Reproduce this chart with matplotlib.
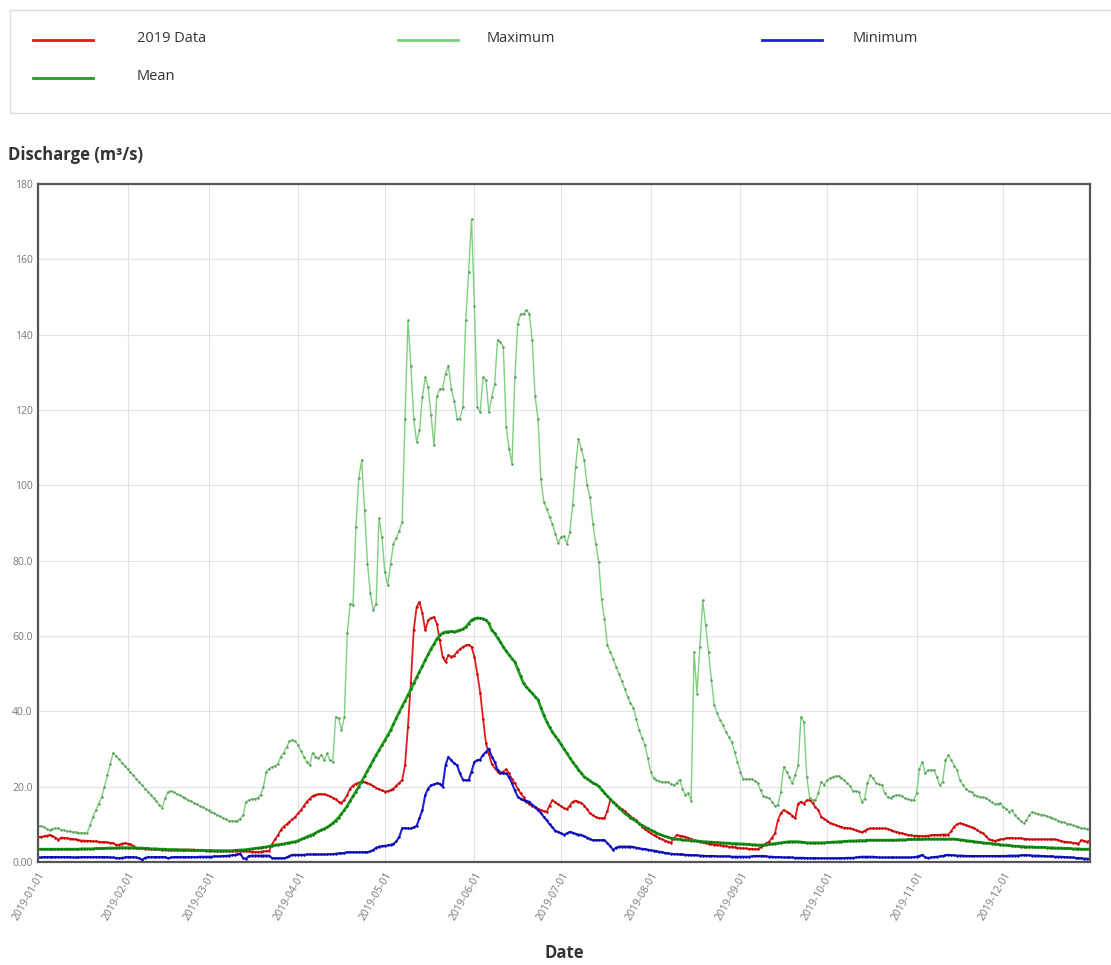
import pandas as pd
import matplotlib
matplotlib.use("Agg")
import matplotlib.pyplot as plt
import matplotlib.dates as mdates
from matplotlib.lines import Line2D
from matplotlib.ticker import FuncFormatter, MultipleLocator

plt.rcParams['font.family'] = ['Open Sans', 'DejaVu Sans']

# daily discharge values, one row per month (m3/s)
data_2019 = [
    6.6, 6.7, 6.8, 7.0, 7.2, 6.9, 6.5, 5.9, 6.5, 6.4, 6.3, 6.2, 6.1, 6.0, 5.8, 5.7, 5.7, 5.6, 5.6, 5.5, 5.5, 5.4, 5.3, 5.3, 5.2, 5.1, 5.0, 4.6, 4.6, 4.9, 5.0,
    4.9, 4.7, 4.3, 3.8, 3.7, 3.6, 3.5, 3.5, 3.4, 3.4, 3.4, 3.4, 3.3, 3.3, 3.3, 3.3, 3.3, 3.3, 3.3, 3.3, 3.3, 3.3, 3.3, 3.3, 3.2, 3.2, 3.2, 3.1,
    3.1, 3.1, 3.0, 3.0, 3.0, 3.0, 3.0, 3.0, 2.9, 2.9, 2.9, 2.8, 2.8, 2.8, 2.8, 2.7, 2.7, 2.7, 2.7, 2.8, 2.9, 3.0, 4.7, 6.0, 7.1, 8.5, 9.4, 10.0, 10.7, 11.3, 12.0,
    12.9, 13.8, 14.9, 16.0, 16.8, 17.5, 17.8, 18.0, 18.0, 18.0, 17.8, 17.4, 17.1, 16.6, 16.0, 15.7, 16.5, 17.8, 19.5, 20.3, 20.8, 21.1, 21.3, 21.2, 20.9, 20.6, 20.2, 19.7, 19.3, 19.0,
    18.7, 18.8, 19.1, 19.5, 20.3, 21.0, 21.7, 25.7, 35.9, 47.4, 61.5, 67.7, 69.0, 66.0, 61.5, 64.2, 64.8, 65.0, 63.3, 58.9, 54.5, 53.1, 54.9, 54.5, 54.8, 55.8, 56.5, 57.1, 57.5, 57.7, 57.1,
    54.5, 50.0, 45.0, 38.0, 31.5, 28.8, 26.0, 25.0, 24.0, 23.7, 24.0, 24.6, 23.5, 22.0, 20.9, 19.5, 18.2, 17.2, 16.0, 15.4, 14.9, 14.7, 14.2, 13.8, 13.5, 13.3, 15.0, 16.4, 15.8, 15.3,
    14.8, 14.3, 14.0, 15.0, 16.0, 16.3, 16.0, 15.7, 15.0, 14.0, 12.9, 12.4, 11.9, 11.7, 11.6, 11.6, 13.5, 16.4, 16.0, 15.3, 14.6, 14.0, 13.5, 12.8, 12.1, 11.6, 11.1, 10.3, 9.4, 8.7, 8.1,
    7.6, 7.2, 6.8, 6.3, 6.0, 5.7, 5.4, 5.1, 6.3, 7.2, 7.0, 6.8, 6.7, 6.4, 6.1, 5.8, 5.6, 5.4, 5.2, 5.0, 4.9, 4.8, 4.6, 4.5, 4.4, 4.3, 4.2, 4.1, 4.0, 3.9, 3.8,
    3.7, 3.6, 3.6, 3.5, 3.5, 3.4, 3.4, 3.9, 4.5, 5.0, 5.4, 6.5, 7.6, 11.1, 12.9, 13.8, 13.4, 12.9, 12.3, 11.6, 15.5, 16.0, 15.5, 16.4, 16.4, 15.7, 14.5, 13.8, 12.0, 11.5,
    11.0, 10.4, 10.1, 9.8, 9.5, 9.3, 9.1, 9.0, 8.9, 8.7, 8.4, 8.1, 7.9, 8.3, 8.7, 8.9, 8.9, 8.9, 8.9, 8.9, 8.9, 8.8, 8.5, 8.2, 8.0, 7.8, 7.6, 7.4, 7.2, 7.1, 7.0,
    7.0, 6.9, 6.9, 6.9, 7.0, 7.1, 7.2, 7.2, 7.2, 7.3, 7.3, 7.3, 8.2, 9.4, 10.0, 10.3, 10.1, 9.8, 9.5, 9.2, 8.9, 8.5, 8.0, 7.6, 6.8, 6.0, 5.8, 5.6, 5.8, 6.0,
    6.1, 6.3, 6.4, 6.4, 6.3, 6.3, 6.3, 6.2, 6.1, 6.0, 6.0, 6.0, 6.0, 6.0, 6.0, 6.0, 6.0, 6.0, 6.0, 5.8, 5.6, 5.4, 5.3, 5.2, 5.1, 5.0, 4.9, 5.8, 5.6, 5.4, 5.8,
]

maximum = [
    9.5, 9.6, 9.3, 8.8, 8.5, 8.8, 9.0, 8.9, 8.6, 8.4, 8.2, 8.1, 8.0, 7.9, 7.8, 7.8, 7.7, 7.7, 9.8, 12.0, 13.8, 15.5, 17.2, 20.0, 23.0, 26.0, 29.0, 28.1, 27.3, 26.4, 25.5,
    24.7, 23.8, 23.0, 22.1, 21.3, 20.4, 19.5, 18.7, 17.8, 17.0, 16.1, 15.2, 14.4, 17.0, 18.6, 18.9, 18.5, 18.1, 17.7, 17.3, 16.9, 16.5, 16.1, 15.7, 15.3, 14.9, 14.5, 14.1,
    13.7, 13.3, 12.9, 12.5, 12.1, 11.7, 11.3, 11.0, 10.9, 10.8, 11.0, 11.5, 12.5, 16.0, 16.5, 16.8, 16.8, 17.0, 17.8, 20.0, 24.0, 24.8, 25.2, 25.5, 26.0, 28.0, 29.0, 30.5, 32.0, 32.4, 32.0,
    31.0, 29.5, 28.0, 26.5, 25.7, 29.0, 28.0, 27.5, 28.5, 27.0, 28.9, 27.0, 26.6, 38.5, 38.1, 35.0, 38.5, 60.7, 68.6, 68.2, 89.0, 102.0, 106.6, 93.4, 79.2, 71.3, 66.8, 68.6, 91.2, 86.3,
    77.0, 73.5, 79.2, 84.5, 85.9, 88.0, 90.3, 117.7, 143.8, 131.8, 117.7, 111.5, 114.6, 123.4, 128.7, 126.1, 118.6, 110.6, 123.6, 125.6, 125.6, 129.6, 131.8, 125.6, 122.5, 117.7, 117.7, 120.8, 143.8, 156.6, 170.7,
    147.7, 120.8, 119.4, 128.7, 127.9, 119.4, 123.4, 126.8, 138.6, 138.0, 136.7, 115.5, 109.7, 105.7, 128.7, 142.9, 145.5, 145.5, 146.6, 145.5, 138.5, 123.6, 117.7, 101.8, 95.6, 93.8, 91.6, 89.7, 87.2, 84.7,
    86.3, 86.5, 84.5, 87.6, 94.7, 104.9, 112.4, 109.7, 106.6, 100.0, 96.9, 89.8, 84.5, 79.7, 69.7, 64.6, 57.6, 55.8, 54.0, 51.8, 50.0, 48.0, 46.0, 43.8, 42.1, 41.0, 38.0, 35.0, 33.0, 31.0, 27.5,
    24.0, 22.2, 21.8, 21.4, 21.3, 21.3, 21.3, 20.8, 20.4, 21.0, 21.9, 19.5, 17.8, 18.2, 16.3, 55.8, 44.7, 57.1, 69.5, 62.9, 55.8, 48.3, 41.6, 39.5, 37.7, 36.3, 34.6, 33.2, 31.9, 29.3, 26.6,
    24.0, 22.0, 22.0, 22.0, 22.0, 21.5, 21.0, 19.0, 17.5, 17.2, 17.0, 16.0, 14.9, 15.1, 18.6, 25.3, 23.9, 22.6, 20.9, 23.0, 25.7, 38.5, 37.2, 22.6, 16.9, 16.4, 16.4, 18.3, 21.3, 20.4,
    21.7, 22.2, 22.6, 22.8, 22.8, 22.2, 21.7, 20.9, 20.2, 18.9, 18.8, 18.6, 16.0, 16.8, 20.9, 23.0, 22.2, 20.9, 20.6, 20.4, 18.2, 17.3, 17.1, 17.5, 17.8, 17.8, 17.4, 16.9, 16.7, 16.5, 16.4,
    18.2, 24.8, 26.6, 23.5, 24.4, 24.4, 24.4, 22.6, 20.4, 21.3, 27.0, 28.4, 27.0, 25.6, 24.4, 21.7, 20.5, 19.5, 18.8, 18.6, 17.8, 17.5, 17.3, 17.2, 17.0, 16.4, 15.8, 15.4, 15.5, 15.6,
    14.5, 14.2, 13.3, 13.8, 12.5, 11.6, 10.8, 10.3, 11.1, 12.5, 13.3, 13.0, 12.8, 12.6, 12.5, 12.2, 11.9, 11.6, 11.3, 11.0, 10.7, 10.5, 10.2, 10.0, 9.7, 9.5, 9.3, 9.0, 8.9, 8.8, 8.7,
]

minimum = [
    1.2, 1.2, 1.3, 1.3, 1.3, 1.3, 1.3, 1.3, 1.3, 1.3, 1.3, 1.3, 1.2, 1.2, 1.2, 1.3, 1.3, 1.3, 1.3, 1.3, 1.3, 1.3, 1.3, 1.3, 1.3, 1.2, 1.2, 1.1, 1.0, 1.1, 1.2,
    1.3, 1.3, 1.3, 1.2, 1.0, 0.6, 1.1, 1.3, 1.3, 1.3, 1.3, 1.3, 1.3, 1.3, 1.0, 1.2, 1.3, 1.3, 1.3, 1.3, 1.3, 1.3, 1.3, 1.3, 1.3, 1.4, 1.4, 1.4,
    1.4, 1.4, 1.5, 1.5, 1.5, 1.6, 1.6, 1.7, 1.8, 1.9, 2.0, 2.2, 1.0, 0.9, 1.6, 1.7, 1.7, 1.7, 1.7, 1.7, 1.7, 1.7, 1.0, 1.0, 1.0, 1.0, 1.0, 1.2, 1.6, 1.9, 1.9,
    1.9, 1.9, 1.9, 2.0, 2.0, 2.0, 2.0, 2.0, 2.0, 2.0, 2.0, 2.1, 2.1, 2.2, 2.3, 2.3, 2.4, 2.6, 2.6, 2.6, 2.6, 2.6, 2.6, 2.6, 2.6, 2.8, 3.2, 3.8, 4.1, 4.2,
    4.3, 4.4, 4.6, 4.8, 5.5, 6.7, 8.9, 9.0, 8.9, 8.9, 9.2, 9.6, 11.6, 13.8, 17.8, 19.5, 20.4, 20.6, 20.9, 20.8, 20.0, 25.7, 27.9, 27.0, 26.2, 25.7, 23.5, 21.9, 21.7, 21.7, 24.0,
    26.6, 27.0, 27.2, 28.5, 29.2, 30.1, 28.0, 26.6, 24.5, 23.7, 23.5, 23.5, 22.5, 20.9, 19.0, 17.3, 16.8, 16.4, 16.2, 16.0, 15.2, 14.5, 13.8, 13.0, 12.0, 11.1, 10.0, 9.2, 8.3, 8.0,
    7.6, 7.2, 7.6, 8.0, 7.8, 7.5, 7.3, 7.2, 6.8, 6.5, 6.1, 5.8, 5.8, 5.8, 5.8, 5.8, 5.0, 4.2, 3.2, 3.8, 4.1, 4.1, 4.1, 4.1, 4.1, 4.0, 3.8, 3.6, 3.5, 3.4, 3.3,
    3.1, 3.0, 2.9, 2.7, 2.6, 2.4, 2.3, 2.2, 2.1, 2.1, 2.0, 2.0, 1.9, 1.9, 1.8, 1.8, 1.8, 1.7, 1.7, 1.6, 1.6, 1.6, 1.6, 1.5, 1.5, 1.5, 1.5, 1.5, 1.4, 1.4, 1.4,
    1.4, 1.4, 1.4, 1.4, 1.5, 1.6, 1.6, 1.6, 1.6, 1.5, 1.4, 1.4, 1.3, 1.3, 1.3, 1.2, 1.2, 1.2, 1.2, 1.1, 1.1, 1.1, 1.1, 1.0, 1.0, 1.0, 1.0, 1.0, 1.0, 1.0,
    1.0, 1.0, 1.0, 1.0, 1.0, 1.0, 1.0, 1.1, 1.1, 1.1, 1.2, 1.3, 1.4, 1.4, 1.4, 1.4, 1.4, 1.3, 1.2, 1.2, 1.2, 1.2, 1.2, 1.2, 1.2, 1.2, 1.2, 1.2, 1.2, 1.2, 1.3,
    1.4, 1.6, 1.9, 1.2, 1.1, 1.2, 1.3, 1.4, 1.5, 1.6, 1.8, 1.9, 1.8, 1.8, 1.7, 1.7, 1.7, 1.6, 1.6, 1.6, 1.6, 1.6, 1.6, 1.6, 1.6, 1.6, 1.6, 1.6, 1.6, 1.6,
    1.6, 1.6, 1.7, 1.7, 1.7, 1.7, 1.8, 1.8, 1.8, 1.8, 1.7, 1.7, 1.7, 1.6, 1.6, 1.5, 1.5, 1.5, 1.4, 1.4, 1.4, 1.3, 1.3, 1.2, 1.2, 1.1, 1.0, 1.0, 0.9, 0.9, 0.8,
]

mean = [
    3.4, 3.4, 3.4, 3.4, 3.4, 3.4, 3.4, 3.4, 3.4, 3.4, 3.4, 3.4, 3.4, 3.4, 3.4, 3.5, 3.5, 3.5, 3.5, 3.5, 3.6, 3.6, 3.6, 3.6, 3.7, 3.7, 3.7, 3.7, 3.8, 3.8, 3.8,
    3.8, 3.8, 3.8, 3.7, 3.7, 3.7, 3.6, 3.6, 3.5, 3.5, 3.5, 3.4, 3.4, 3.4, 3.3, 3.3, 3.3, 3.3, 3.2, 3.2, 3.2, 3.2, 3.1, 3.1, 3.1, 3.1, 3.1, 3.0,
    3.0, 3.0, 3.0, 3.0, 3.0, 3.0, 3.0, 3.0, 3.0, 3.1, 3.1, 3.2, 3.2, 3.3, 3.4, 3.5, 3.6, 3.7, 3.8, 3.9, 4.0, 4.2, 4.3, 4.5, 4.6, 4.7, 4.8, 5.0, 5.1, 5.3, 5.4,
    5.7, 6.0, 6.3, 6.7, 7.0, 7.3, 7.7, 8.1, 8.5, 8.8, 9.2, 9.7, 10.3, 11.0, 11.8, 12.8, 13.8, 14.9, 16.2, 17.5, 18.7, 20.0, 21.4, 22.8, 24.2, 25.6, 27.0, 28.4, 29.7, 31.0,
    32.3, 33.6, 35.0, 36.6, 38.2, 39.8, 41.3, 42.8, 44.3, 45.8, 47.4, 49.0, 50.5, 52.0, 53.6, 55.1, 56.6, 57.8, 59.2, 60.2, 60.8, 61.1, 61.1, 61.2, 61.1, 61.3, 61.6, 61.8, 62.4, 63.3, 64.2,
    64.6, 64.8, 64.7, 64.6, 64.2, 63.4, 61.5, 60.7, 59.5, 58.4, 57.1, 56.0, 55.0, 54.0, 53.1, 51.2, 49.3, 47.4, 46.5, 45.6, 44.8, 43.9, 43.1, 41.0, 39.0, 37.3, 35.8, 34.5, 33.4, 32.4,
    31.2, 30.0, 28.9, 27.7, 26.5, 25.5, 24.5, 23.6, 22.6, 22.1, 21.6, 21.0, 20.6, 20.1, 19.2, 18.4, 17.5, 16.7, 15.9, 15.2, 14.4, 13.7, 12.9, 12.4, 11.8, 11.3, 10.8, 10.2, 9.7, 9.3, 8.9,
    8.5, 8.1, 7.7, 7.4, 7.1, 6.8, 6.6, 6.3, 6.2, 6.1, 6.0, 5.9, 5.8, 5.8, 5.7, 5.7, 5.6, 5.5, 5.4, 5.4, 5.3, 5.3, 5.2, 5.2, 5.1, 5.1, 5.0, 5.0, 4.9, 4.9, 4.9,
    4.8, 4.8, 4.7, 4.7, 4.6, 4.6, 4.5, 4.5, 4.5, 4.6, 4.7, 4.8, 4.9, 5.0, 5.1, 5.2, 5.3, 5.4, 5.4, 5.4, 5.4, 5.3, 5.2, 5.1, 5.1, 5.1, 5.1, 5.1, 5.1, 5.1,
    5.2, 5.2, 5.3, 5.3, 5.4, 5.4, 5.5, 5.5, 5.6, 5.6, 5.6, 5.7, 5.7, 5.7, 5.8, 5.8, 5.8, 5.8, 5.8, 5.8, 5.8, 5.8, 5.8, 5.8, 5.8, 5.9, 5.9, 5.9, 6.0, 6.0, 6.0,
    6.0, 6.0, 6.0, 6.1, 6.1, 6.1, 6.1, 6.1, 6.1, 6.1, 6.1, 6.1, 6.1, 6.1, 6.0, 5.9, 5.8, 5.7, 5.6, 5.5, 5.4, 5.3, 5.2, 5.1, 5.0, 5.0, 4.9, 4.8, 4.7, 4.6,
    4.5, 4.5, 4.4, 4.3, 4.2, 4.2, 4.1, 4.1, 4.0, 4.0, 4.0, 3.9, 3.9, 3.9, 3.9, 3.8, 3.8, 3.8, 3.7, 3.7, 3.7, 3.6, 3.6, 3.6, 3.5, 3.5, 3.5, 3.4, 3.4, 3.4, 3.4,
]

series = [
    ("2019 Data", data_2019, "#e41a1c", 1.3, "#c00000"),
    ("Maximum", maximum, "#7fcf7f", 1.0, "#5a9a5a"),
    ("Minimum", minimum, "#1f1fd6", 1.5, "#0000a0"),
    ("Mean", mean, "#1fa01f", 2.0, "#117011"),
]

W, H = 1111, 965
fig = plt.figure(figsize=(W / 100, H / 100), dpi=100)


def fx(px):
    return px / W


def fy(py):
    return 1 - py / H


# legend box at the top, running off the right edge like the original
leg = fig.add_axes([fx(10), fy(113), fx(1130) - fx(10), fy(10) - fy(113)])
leg.set_xticks([])
leg.set_yticks([])
for s in leg.spines.values():
    s.set_color("#dddddd")
    s.set_linewidth(1.0)

legend_pos = [(33, 40, 137), (398, 40, 487), (762, 40, 853), (33, 78, 137)]
for (name, _, color, lw, _), (x0, y0, tx) in zip(series, legend_pos):
    fig.add_artist(Line2D([fx(x0), fx(x0 + 60)], [fy(y0), fy(y0)], transform=fig.transFigure,
                          color=color, lw=2))
    fig.text(fx(tx), fy(y0 - 1), name, fontsize=10.5, color="#333333", va="center", ha="left")

fig.text(fx(8), fy(155), "Discharge (m³/s)", fontsize=12, fontweight="bold", color="#333333",
         va="center", ha="left")

ax = fig.add_axes([fx(38), fy(862), fx(1090) - fx(38), fy(184) - fy(862)])

for name, vals, color, lw, mcol in series:
    dates = pd.date_range("2019-01-01", periods=len(vals), freq="D")
    ax.plot(dates, vals, color=color, lw=lw, marker="o", ms=1.8, mfc=mcol, mec=mcol,
            mew=0, label=name)

ax.set_ylim(0, 180)
ax.set_xlim(pd.Timestamp("2019-01-01"), pd.Timestamp("2019-12-31"))
ax.yaxis.set_major_locator(MultipleLocator(20))


def yfmt(v, pos):
    if v < 10:
        return f"{v:.2f}"
    if v < 100:
        return f"{v:.1f}"
    return f"{v:.0f}"


ax.yaxis.set_major_formatter(FuncFormatter(yfmt))
ax.xaxis.set_major_locator(mdates.MonthLocator())
ax.xaxis.set_major_formatter(mdates.DateFormatter("%Y-%m-%d"))
ax.tick_params(axis="both", length=0, labelsize=7.5, labelcolor="#777777")
ax.tick_params(axis="y", pad=4)
ax.tick_params(axis="x", pad=6)
for lab in ax.get_xticklabels():
    lab.set_rotation(60)
    lab.set_ha("right")
    lab.set_va("top")
    lab.set_rotation_mode("anchor")

ax.grid(True, color="#e3e3e3", lw=0.8)
ax.set_axisbelow(True)
for s in ax.spines.values():
    s.set_color("#555555")
    s.set_linewidth(1.6)

fig.text(fx(564), fy(953), "Date", fontsize=12, fontweight="bold", color="#333333",
         va="center", ha="center")

fig.savefig("out.png", dpi=100)
